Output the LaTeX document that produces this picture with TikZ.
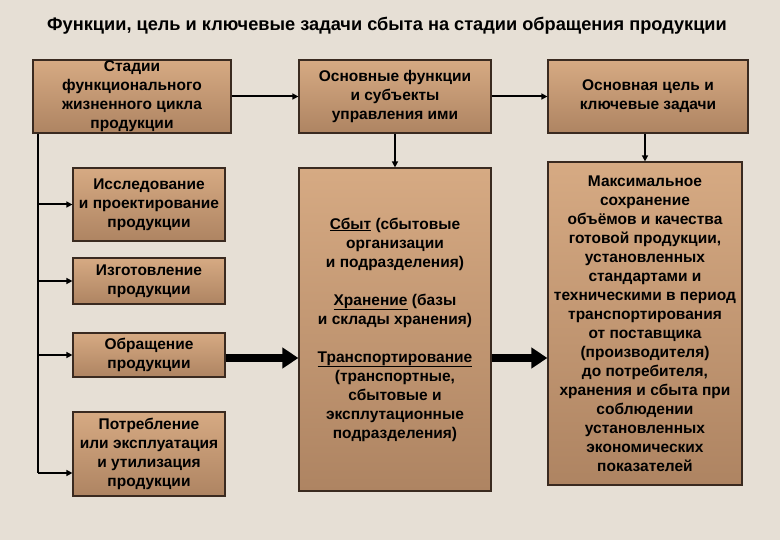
\documentclass[tikz,border=0pt]{standalone}
\usepackage{fontspec}
\setmainfont{Liberation Sans}
\usetikzlibrary{arrows.meta}
\definecolor{paper}{HTML}{E6DFD5}
\definecolor{boxtop}{HTML}{D6AA83}
\definecolor{boxmid}{HTML}{F1CCA6}
\definecolor{boxbot}{HTML}{AE8462}
\definecolor{boxline}{HTML}{3A2A20}
\begin{document}
\begin{tikzpicture}[x=1pt,y=-1pt,
  box/.style={draw=boxline,line width=1.2pt,top color=boxtop,middle color=boxmid,bottom color=boxbot,
    align=center,inner sep=0pt,font=\fontsize{15.5}{19}\selectfont\bfseries},
  link/.style={line width=2pt,-{Triangle[length=6pt,width=6pt]}},
  fatlink/.style={line width=8pt,-{Triangle[length=16pt,width=20pt]}}]
\fill[paper] (0,0) rectangle (780,540);\useasboundingbox (0,0) rectangle (780,540);
\node (title) at (387,26) {\fontsize{18.2}{21}\selectfont\bfseries Функции, цель и ключевые задачи сбыта на стадии обращения продукции};
% left column
\node[box,minimum width=198pt,minimum height=73pt] (st) at (132,96.5) {Стадии\\функционального\\жизненного цикла\\продукции};
\node[box,minimum width=152pt,minimum height=73pt] (s1) at (149,204.5) {Исследование\\и проектирование\\продукции};
\node[box,minimum width=152pt,minimum height=46pt] (s2) at (149,281) {Изготовление\\продукции};
\node[box,minimum width=152pt,minimum height=44pt] (s3) at (149,355) {Обращение\\продукции};
\node[box,minimum width=152pt,minimum height=84pt] (s4) at (149,454) {Потребление\\или эксплуатация\\и утилизация\\продукции};
% middle column
\node[box,minimum width=192pt,minimum height=73pt] (fn) at (395,96.5) {Основные функции\\и субъекты\\управления ими};
\node[box,minimum width=192pt,minimum height=323pt] (sb) at (395,329.5) {\underline{Сбыт} (сбытовые\\организации\\и подразделения)\\[19pt]\underline{Хранение} (базы\\и склады хранения)\\[19pt]\underline{Транспортирование}\\(транспортные,\\сбытовые и\\эксплутационные\\подразделения)};
% right column
\node[box,minimum width=200pt,minimum height=73pt] (gl) at (648,96.5) {Основная цель и\\ключевые задачи};
\node[box,minimum width=194pt,minimum height=323pt] (mx) at (645,323.5) {Максимальное\\сохранение\\объёмов и качества\\готовой продукции,\\установленных\\стандартами и\\техническими в период\\транспортирования\\от поставщика\\(производителя)\\до потребителя,\\хранения и сбыта при\\соблюдении\\установленных\\экономических\\показателей};
% connectors
\coordinate (k) at (38,473);
\draw[line width=2pt] (st.south -| k) -- (k);
\draw[link] (k |- s1.west) -- (s1.west);\draw[link] (k |- s2.west) -- (s2.west);
\draw[link] (k |- s3.west) -- (s3.west);\draw[link] (k) -- (k -| s4.west);
\draw[link] (st.east) -- (st.east -| fn.west);\draw[link] (fn.east) -- (fn.east -| gl.west);
\draw[link] (fn.south) -- (fn.south |- sb.north);\draw[link] (mx.north |- gl.south) -- (mx.north);
\draw[fatlink] ([yshift=-3pt]s3.east) -- ([yshift=-3pt]s3.east -| sb.west);
\draw[fatlink] ([yshift=-3pt]s3.east -| sb.east) -- ([yshift=-3pt]s3.east -| mx.west);
\end{tikzpicture}
\end{document}
